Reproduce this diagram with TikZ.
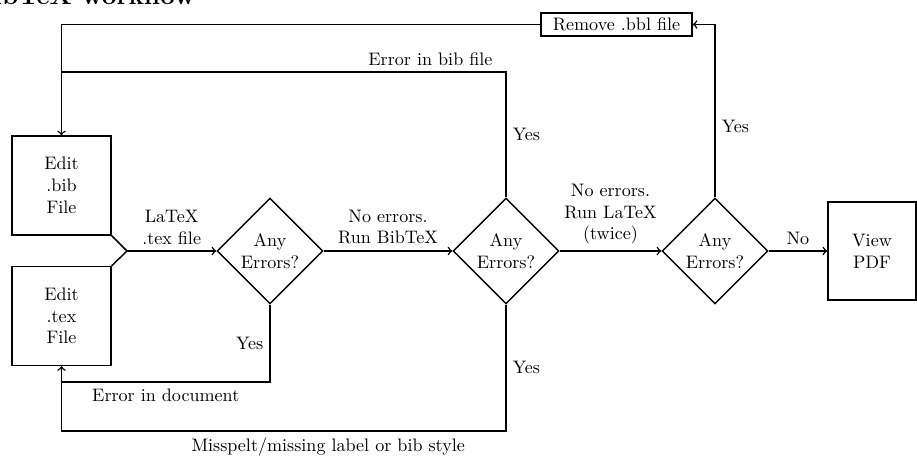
\documentclass[tikz,border=0pt]{standalone}
\usetikzlibrary{shapes.geometric,arrows}
\begin{document}
\begin{tikzpicture}[x=0.553pt,y=-0.553pt,
  every path/.style={thick},
  procbox/.style={draw,thick,align=center,minimum width=54.7pt,minimum height=54.7pt,inner sep=1pt},
  decide/.style={draw,thick,diamond,aspect=1,align=center,minimum width=58.6pt,minimum height=58.6pt,inner sep=0pt},
  smallbox/.style={draw,thick,inner sep=1.5pt,minimum width=83.5pt,minimum height=12.7pt},
  lbl/.style={align=center,font=\normalsize},
  conn/.style={thick,->,>=to}]
\useasboundingbox (0,0) rectangle (917,458);
\node[anchor=base east,font=\Large\bfseries,inner sep=0pt] (title) at (196,5) {BibTeX workflow};
\node[procbox] (bib) at (61.5,185.5) {Edit\\.bib\\File};
\node[procbox] (tex) at (61.5,316) {Edit\\.tex\\File};
\coordinate (J) at (127,251);
\node[decide] (d1) at (270,251) {Any\\Errors?};
\node[decide] (d2) at (506,251) {Any\\Errors?};
\node[decide] (d3) at (715,251) {Any\\Errors?};
\node[draw,thick,align=center,minimum width=48.7pt,minimum height=54.2pt] (view) at (872,251) {View\\PDF};
\node[smallbox] (rm) at (616.5,24.5) {Remove .bbl file};
\coordinate (b1) at (506,72);
\coordinate (b2) at (61.5,72);
\coordinate (e1) at (270,382);
\coordinate (e2) at (61.5,382);
\coordinate (f1) at (506,431);
\coordinate (f2) at (61.5,431);
\coordinate (r1) at (715,24.5);
\coordinate (r2) at (61.5,24.5);

\draw (bib.south east) -- (J) -- (tex.north east);
\draw[conn] (J) -- node[lbl,above] {LaTeX\\.tex file} (d1.west);
\draw[conn] (d1.east) -- node[lbl,above] {No errors.\\Run BibTeX} (d2.west);
\draw[conn] (d2.east) -- node[lbl,above] {No errors.\\Run LaTeX\\(twice)} (d3.west);
\draw[conn] (d3.east) -- node[lbl,above] {No} (view.west);

\draw[conn] (d3.north) -- node[lbl,right,pos=0.41] {Yes} (r1) -- (rm.east);
\draw[conn] (rm.west) -- (r2) -- (bib.north);
\draw (d2.north) -- node[lbl,right] {Yes} (b1) -- node[lbl,above,pos=0.17] {Error in bib file} (b2);

\draw[conn] (d1.south) -- node[lbl,left] {Yes} (e1) -- node[lbl,below] {Error in document} (e2) -- (tex.south);
\draw (d2.south) -- node[lbl,right] {Yes} (f1) -- node[lbl,below,pos=0.4] {Misspelt/missing label or bib style} (f2) -- (e2);
\end{tikzpicture}
\end{document}
